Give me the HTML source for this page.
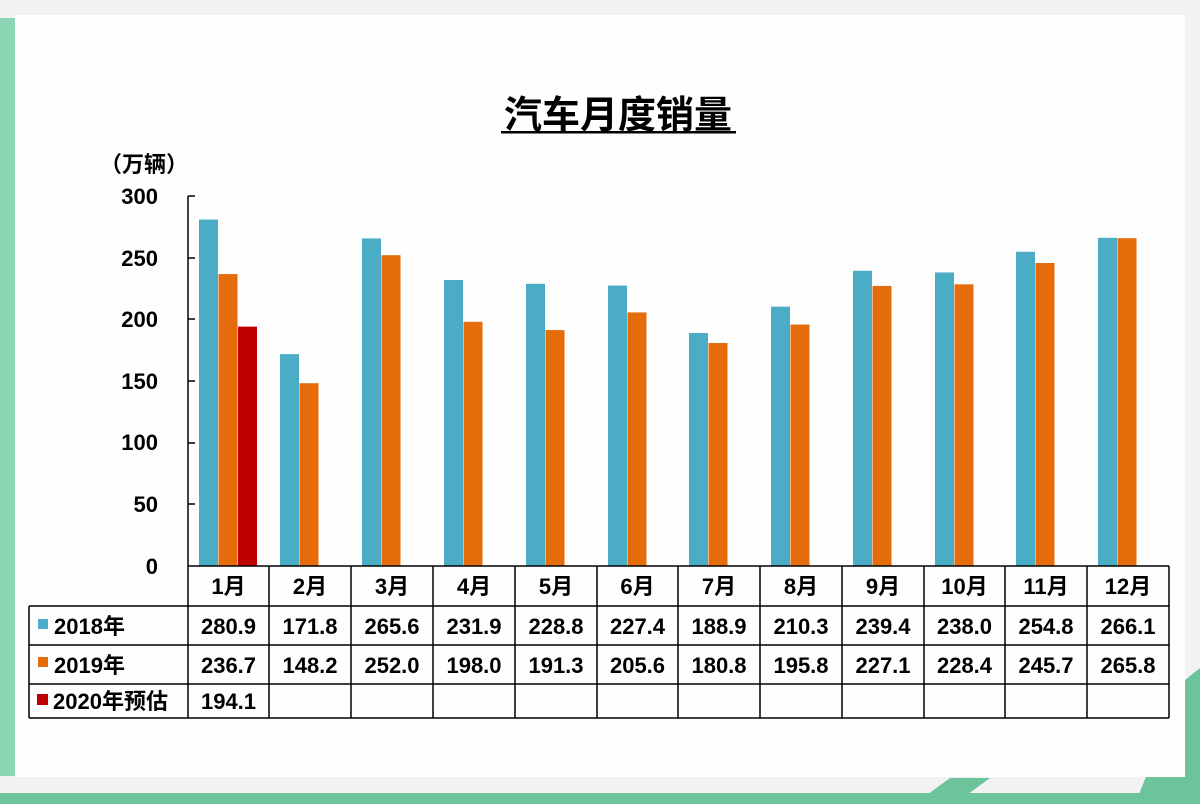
<!DOCTYPE html>
<html><head><meta charset="utf-8"><style>
body{margin:0;width:1200px;height:804px;background:#f2f2f2;overflow:hidden;font-family:"Liberation Sans","Noto Sans CJK SC",sans-serif;}
</style></head><body>
<svg width="1200" height="804" xmlns="http://www.w3.org/2000/svg" style="position:absolute;left:0;top:0">
<rect x="0" y="0" width="1200" height="804" fill="#f2f2f2"/>
<rect x="0" y="18" width="15" height="758" fill="#8cd5b5"/>
<polygon points="1185,680 1200,668 1200,804 1135,804" fill="#6cc49c"/>
<polygon points="950,778 990,778 960,800 920,800" fill="#6cc49c"/>
<rect x="0" y="793" width="1200" height="11" fill="#6cc49c"/>
<rect x="15" y="15" width="1170" height="762" fill="#fefefe"/>
<text x="618" y="128" font-size="38" font-weight="bold" text-anchor="middle" font-family="Liberation Sans,Noto Sans CJK SC,sans-serif">汽车月度销量</text>
<rect x="501" y="131" width="235" height="2.5" fill="#000"/>
<text x="100" y="172" font-size="22" font-weight="bold" font-family="Liberation Sans,Noto Sans CJK SC,sans-serif">（万辆）</text>
<g font-size="22" font-weight="bold" text-anchor="end" font-family="Liberation Sans,sans-serif">
<text x="158" y="204">300</text><text x="158" y="266">250</text><text x="158" y="327">200</text>
<text x="158" y="389">150</text><text x="158" y="450">100</text><text x="158" y="512">50</text><text x="158" y="574">0</text>
</g>
<g stroke="#000" stroke-width="1.5">
<line x1="188" y1="196" x2="188" y2="566"/>
<line x1="188" y1="196" x2="195" y2="196"/><line x1="188" y1="258" x2="195" y2="258"/>
<line x1="188" y1="319" x2="195" y2="319"/><line x1="188" y1="381" x2="195" y2="381"/>
<line x1="188" y1="443" x2="195" y2="443"/><line x1="188" y1="504" x2="195" y2="504"/>
</g>
<g id="bars"></g>
<g id="tbl" stroke="#000" stroke-width="1.5" fill="none"></g>
<g id="txt" font-size="22" font-weight="bold" text-anchor="middle" font-family="Liberation Sans,Noto Sans CJK SC,sans-serif"></g>
</svg>
<script>
var a=[280.9,171.8,265.6,231.9,228.8,227.4,188.9,210.3,239.4,238.0,254.8,266.1];
var b=[236.7,148.2,252.0,198.0,191.3,205.6,180.8,195.8,227.1,228.4,245.7,265.8];
var xs=[188,269,351,433,515,597,678,760,842,924,1005,1087,1169];
var ns="http://www.w3.org/2000/svg";
function el(p,t,at,tx){var e=document.createElementNS(ns,t);for(var k in at)e.setAttribute(k,at[k]);if(tx)e.textContent=tx;document.getElementById(p).appendChild(e);}
var s=370/300;
function bar(x,v,c){el("bars","rect",{x:x,y:566-v*s,width:19,height:v*s,fill:c});}
for(var i=0;i<12;i++){var x0=xs[i]+11;bar(x0,a[i],"#4bacc6");bar(x0+19.5,b[i],"#e46c0a");}
bar(xs[0]+11+39,194.1,"#c00000");
el("tbl","line",{x1:188,y1:566,x2:1169,y2:566});
el("tbl","line",{x1:29,y1:606,x2:1169,y2:606});
el("tbl","line",{x1:29,y1:645,x2:1169,y2:645});
el("tbl","line",{x1:29,y1:684,x2:1169,y2:684});
el("tbl","line",{x1:29,y1:718,x2:1169,y2:718});
el("tbl","line",{x1:29,y1:606,x2:29,y2:718});
for(var i=0;i<13;i++)el("tbl","line",{x1:xs[i],y1:566,x2:xs[i],y2:718});
for(var i=0;i<12;i++){var cx=(xs[i]+xs[i+1])/2;
el("txt","text",{x:cx,y:594},(i+1)+"月");
el("txt","text",{x:cx,y:634},a[i].toFixed(1));
el("txt","text",{x:cx,y:673},b[i].toFixed(1));}
el("txt","text",{x:(xs[0]+xs[1])/2,y:709},"194.1");
el("bars","rect",{x:38,y:619,width:10,height:10,fill:"#4bacc6"});
el("bars","rect",{x:38,y:657,width:10,height:10,fill:"#e46c0a"});
el("bars","rect",{x:37,y:694,width:11,height:11,fill:"#c00000"});
el("txt","text",{x:54,y:634,"text-anchor":"start"},"2018年");
el("txt","text",{x:54,y:673,"text-anchor":"start"},"2019年");
el("txt","text",{x:53,y:709,"text-anchor":"start"},"2020年预估");
</script>
</body></html>
